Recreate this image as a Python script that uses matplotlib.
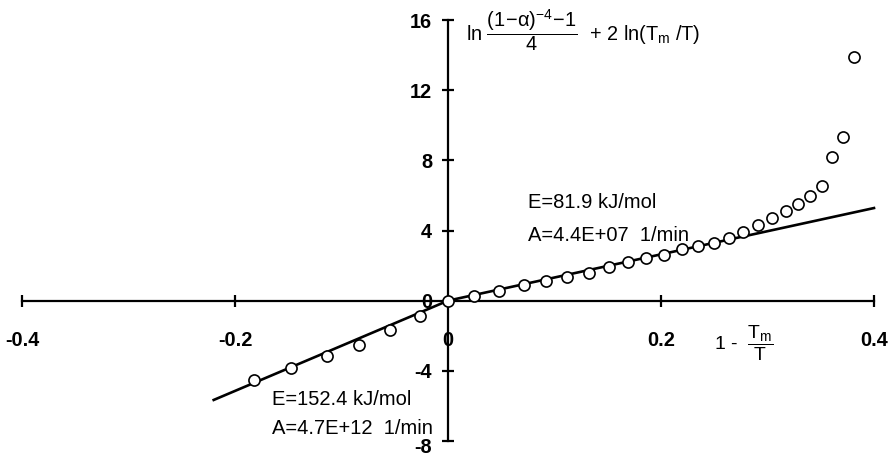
"""
Kinetic plot: ln[((1-a)^-4 - 1)/4] + 2 ln(Tm/T) against 1 - Tm/T,
with the two linear fits crossing at the origin.
"""

import matplotlib
matplotlib.use("Agg")
import matplotlib.pyplot as plt
import matplotlib.transforms as mtransforms

plt.rcParams['font.family'] = ['Liberation Sans', 'DejaVu Sans']
plt.rcParams['mathtext.fontset'] = 'custom'
plt.rcParams['mathtext.rm'] = 'Liberation Sans'
plt.rcParams['mathtext.it'] = 'Liberation Sans'
plt.rcParams['mathtext.bf'] = 'Liberation Sans:bold'
plt.rcParams['axes.unicode_minus'] = False

x_low = [-0.182, -0.147, -0.114, -0.084, -0.054, -0.026, 0.0]
y_low = [-4.51, -3.83, -3.14, -2.51, -1.66, -0.86, 0.0]

x_high = [0.024, 0.048, 0.071, 0.092, 0.112, 0.132, 0.151, 0.169, 0.186,
          0.203, 0.220, 0.235, 0.250, 0.264, 0.277, 0.291, 0.304, 0.317,
          0.329, 0.340, 0.351, 0.361, 0.371, 0.381]
y_high = [0.29, 0.57, 0.91, 1.14, 1.37, 1.60, 1.94, 2.23, 2.46,
          2.63, 2.97, 3.09, 3.31, 3.60, 3.89, 4.34, 4.69, 5.09,
          5.49, 5.94, 6.51, 8.17, 9.31, 13.89]

# fitted lines
fit_low_x = [-0.22, 0.0]
fit_low_y = [-5.66, 0.0]
fit_high_x = [0.0, 0.4]
fit_high_y = [0.0, 5.28]

x_ticks = [-0.4, -0.2, 0.0, 0.2, 0.4]
x_ticklabels = ['-0.4', '-0.2', '0', '0.2', '0.4']
y_ticks = [-8, -4, 0, 4, 8, 12, 16]

fig = plt.figure(figsize=(8.9, 4.57), dpi=100)
ax = fig.add_axes([22 / 890, 16 / 457, 852 / 890, 421 / 457])

ax.plot(fit_low_x, fit_low_y, color='black', lw=1.9, zorder=3, clip_on=False)
ax.plot(fit_high_x, fit_high_y, color='black', lw=1.9, zorder=3, clip_on=False)
ax.plot(x_low + x_high, y_low + y_high, linestyle='none', marker='o',
        markersize=8, markerfacecolor='white', markeredgecolor='black',
        markeredgewidth=1.2, zorder=4, clip_on=False)

ax.set_xlim(-0.4, 0.4)
ax.set_ylim(-8, 16)

for side in ['top', 'right']:
    ax.spines[side].set_visible(False)
ax.spines['left'].set_position(('data', 0))
ax.spines['bottom'].set_position(('data', 0))
for side in ['left', 'bottom']:
    ax.spines[side].set_linewidth(1.6)

ax.set_xticks(x_ticks)
ax.set_xticklabels(x_ticklabels)
ax.set_yticks(y_ticks)
ax.tick_params(axis='x', direction='inout', length=9, width=1.6,
               pad=17, labelsize=14.3)
ax.tick_params(axis='y', direction='inout', length=9, width=1.6,
               pad=7, labelsize=14.3)
for lab in ax.get_xticklabels() + ax.get_yticklabels():
    lab.set_fontweight('bold')
# the bottom label sits a little below its tick, as in the original
bottom_lab = ax.get_yticklabels()[0]
bottom_lab.set_transform(bottom_lab.get_transform() +
                         mtransforms.ScaledTranslation(0, -3.5 / 72,
                                                       fig.dpi_scale_trans))

# axis titles
ax.text(0.017, 15.35,
        r'ln $\dfrac{(1\!-\!\alpha)^{-4}\!-\!1}{4}$  + 2 ln(T$_m$ /T)',
        fontsize=14.3, ha='left', va='center')
ax.text(0.278, -2.46, r'1 -  $\dfrac{T_m}{T}$', fontsize=14,
        ha='center', va='center')

# fit annotations
ax.text(0.075, 5.6, 'E=81.9 kJ/mol', fontsize=14.5, ha='left', va='center')
ax.text(0.075, 3.7, 'A=4.4E+07  1/min', fontsize=14.5, ha='left', va='center')
ax.text(-0.165, -5.66, 'E=152.4 kJ/mol', fontsize=14.5, ha='left', va='center')
ax.text(-0.165, -7.26, 'A=4.7E+12  1/min', fontsize=14.5, ha='left', va='center')

fig.savefig('out.png', dpi=100)
